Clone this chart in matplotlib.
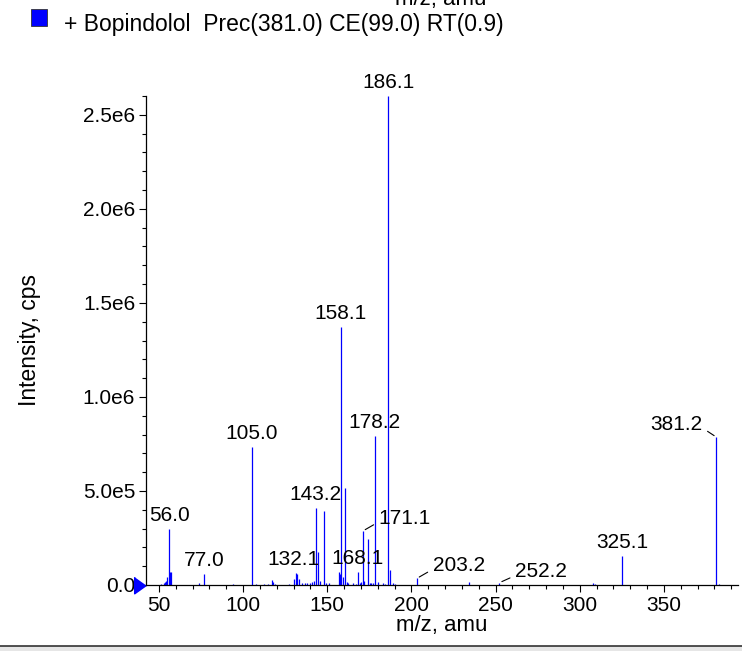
import matplotlib
matplotlib.use("Agg")
from matplotlib import pyplot as plt
from matplotlib import font_manager
from matplotlib.patches import Rectangle
from matplotlib.lines import Line2D
from matplotlib.ticker import MultipleLocator
import matplotlib.transforms as mtrans

# spectrum: m/z and intensity (cps)
mz = [51.5, 52.7, 53.5, 54.3, 55.0, 56.0, 56.5, 57.0, 73.5, 77.0, 93.8,
      105.0, 107.8, 112.2, 115.0, 117.2, 118.0, 119.0, 127.0, 130.3, 131.5,
      132.1, 133.3, 134.7, 136.5, 138.0, 139.5, 141.0, 142.0, 143.2, 144.7,
      145.7, 148.0, 149.5, 151.0, 156.8, 157.5, 158.1, 159.2, 160.6, 161.7,
      162.5, 165.0, 167.0, 168.1, 169.5, 170.2, 171.1, 172.0, 174.2, 175.2,
      176.0, 177.0, 178.2, 180.1, 183.0, 184.5, 186.1, 187.5, 188.8, 190.0,
      203.2, 234.4, 252.2, 308.0, 309.2, 325.1, 381.2, 382.6]
intensity = [5e3, 1e4, 1.8e4, 2.2e4, 4e4, 2.97e5, 7e4, 7e4, 1.2e4, 5.7e4, 5e3,
             7.36e5, 6e3, 6e3, 5e3, 2.7e4, 1.5e4, 6e3, 5e3, 3e4, 6.5e4,
             6e4, 3e4, 1e4, 8e3, 8e3, 1e4, 1.5e4, 2e4, 4.1e5, 1.77e5,
             2e4, 3.94e5, 1e4, 8e3, 7e4, 6e4, 1.372e6, 4.4e4, 5.14e5, 1.5e4,
             8e3, 1e4, 5e3, 6.9e4, 1e4, 1.5e4, 2.87e5, 2e4, 2.45e5, 1e4,
             1.2e4, 8e3, 7.93e5, 1.5e4, 8e3, 6e3, 2.6e6, 8e4, 1.2e4, 5e3,
             3.5e4, 1.4e4, 1.2e4, 1.2e4, 6e3, 1.54e5, 7.86e5, 6e3]

# labelled peaks
label_mz = [56.0, 77.0, 105.0, 132.1, 143.2, 158.1, 168.1, 178.2, 186.1, 325.1]
label_int = [2.97e5, 5.7e4, 7.36e5, 6.5e4, 4.1e5, 1.372e6, 6.9e4, 7.93e5, 2.6e6, 1.54e5]
leader_mz = [171.1, 203.2, 252.2, 381.2]
leader_int = [2.87e5, 3.5e4, 1.2e4, 7.86e5]

yticks = [0, 5e5, 1e6, 1.5e6, 2e6, 2.5e6]
ytick_labels = ["0.0", "5.0e5", "1.0e6", "1.5e6", "2.0e6", "2.5e6"]

names = {f.name for f in font_manager.fontManager.ttflist}
base = "Liberation Sans" if "Liberation Sans" in names else "DejaVu Sans"
plt.rcParams["font.family"] = [base, "DejaVu Sans"]

W, H = 742, 651
fig = plt.figure(figsize=(W / 100, H / 100), dpi=100)
ax = fig.add_axes([146 / W, (H - 585) / H, (738 - 146) / W, (585 - 96) / H])

ax.vlines(mz, 0, intensity, color="blue", lw=0.9)

ax.set_xlim(42.3, 394)
ax.set_ylim(0, 2.6e6)
ax.spines["top"].set_visible(False)
ax.spines["right"].set_visible(False)
for s in ("left", "bottom"):
    ax.spines[s].set_linewidth(0.9)

ax.xaxis.set_major_locator(MultipleLocator(50))
ax.xaxis.set_minor_locator(MultipleLocator(10))
ax.set_yticks(yticks)
ax.set_yticklabels(ytick_labels)
ax.yaxis.set_minor_locator(MultipleLocator(1e5))
ax.tick_params(which="major", length=4.8, width=0.8, labelsize=15, pad=3)
ax.tick_params(which="minor", length=3, width=0.8)

ax.set_xlabel("m/z, amu", fontsize=16, labelpad=0)
ax.set_ylabel("Intensity, cps", fontsize=16.5, labelpad=30)

# peak labels
for x, y in zip(label_mz, label_int):
    dx = -4 if x == 132.1 else 0
    ax.annotate(f"{x:.1f}", (x, y), xytext=(dx, 4), textcoords="offset pixels",
                ha="center", va="bottom", fontsize=15, annotation_clip=False)

lead_off = {171.1: (16, 13, "left"), 203.2: (16, 13, "left"),
            252.2: (16, 11, "left"), 381.2: (-14, 13, "right")}
for x, y in zip(leader_mz, leader_int):
    dx, dy, ha = lead_off[x]
    ax.annotate(f"{x:.1f}", (x, y), xytext=(dx, dy), textcoords="offset pixels",
                ha=ha, va="center", fontsize=15,
                arrowprops=dict(arrowstyle="-", lw=0.8, color="black",
                                shrinkA=2, shrinkB=2,
                                relpos=(0, 0.3) if ha == "left" else (1, 0.3)))

# blue triangle marker at zero level
shift = mtrans.ScaledTranslation(-6 / 100, 0, fig.dpi_scale_trans)
ax.plot([0], [0], marker=[(0.7, 0), (-0.7, -1), (-0.7, 1)], ms=12, color="blue",
        transform=ax.get_yaxis_transform() + shift, clip_on=False)

# legend entry and cut-off label from panel above
fig.patches.append(Rectangle((31 / W, 1 - 26 / H), 16 / W, 17 / H, facecolor="blue",
                             edgecolor="#333333", lw=0.6, transform=fig.transFigure))
fig.text(64 / W, 1 - 24 / H, "+ Bopindolol  Prec(381.0) CE(99.0) RT(0.9)",
         fontsize=16.5, va="center", ha="left")
fig.text(441 / W, 1 - 5 / H, "m/z, amu", fontsize=16, ha="center", va="baseline")

# bottom frame line
fig.patches.append(Rectangle((0, 0), 1, 5 / H, facecolor="#e6e6e6", edgecolor="none",
                             transform=fig.transFigure))
fig.lines.append(Line2D([0, 1], [5 / H, 5 / H], color="#333333", lw=1.2,
                        transform=fig.transFigure))

fig.savefig("out.png", dpi=100)
